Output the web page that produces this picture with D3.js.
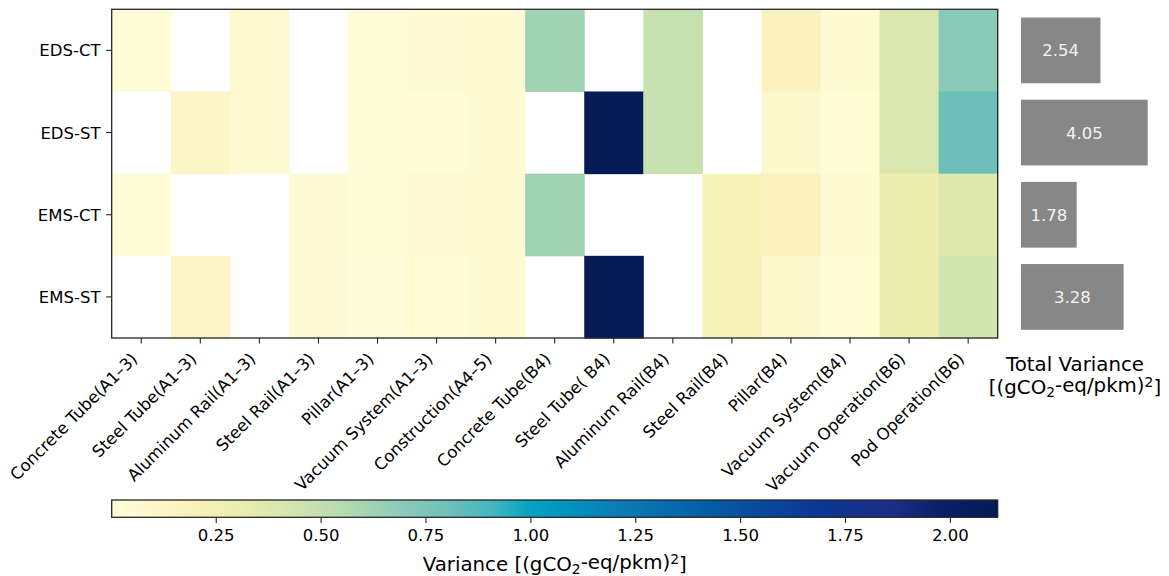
<!DOCTYPE html>
<html>
<head>
<meta charset="utf-8">
<script src="https://cdn.jsdelivr.net/npm/d3@7"></script>
<style>
  html, body { margin: 0; padding: 0; background: #fff; }
  svg text { font-family: "DejaVu Sans", "Liberation Sans", sans-serif; fill: #000; }
</style>
</head>
<body>
<svg id="chart" width="1169" height="576"></svg>
<script>
// ---- data -------------------------------------------------------------
const configs = ["EDS-CT", "EDS-ST", "EMS-CT", "EMS-ST"];
const stages = [
  "Concrete Tube(A1\u20133)", "Steel Tube(A1\u20133)", "Aluminum Rail(A1\u20133)",
  "Steel Rail(A1\u20133)", "Pillar(A1\u20133)", "Vacuum System(A1\u20133)",
  "Construction(A4\u20135)", "Concrete Tube(B4)", "Steel Tube( B4)",
  "Aluminum Rail(B4)", "Steel Rail(B4)", "Pillar(B4)", "Vacuum System(B4)",
  "Vacuum Operation(B6)", "Pod Operation(B6)"
];
// variance per stage, [(gCO2-eq/pkm)^2]; null = not applicable
const edsCT = [0.01, null, 0.06, null, 0.01, 0.04, 0.05, 0.62, null, 0.48, null, 0.17, 0.05, 0.40, 0.70];
const edsST = [null, 0.12, 0.06, null, 0.01, 0.02, 0.05, null, 2.11, 0.48, null, 0.08, 0.02, 0.40, 0.81];
const emsCT = [0.01, null, null, 0.04, 0.01, 0.04, 0.05, 0.62, null, null, 0.20, 0.18, 0.05, 0.29, 0.37];
const emsST = [null, 0.12, null, 0.04, 0.002, 0.02, 0.05, null, 2.114, null, 0.20, 0.08, 0.02, 0.29, 0.43];
const totals = [2.54, 4.05, 1.78, 3.28];
const cbarTicks = [0.25, 0.50, 0.75, 1.00, 1.25, 1.50, 1.75, 2.00];

const rows = [edsCT, edsST, emsCT, emsST];

// ---- colour ramp (yellow -> green -> blue), positions as fraction of range
const rampT = [0, 0.066, 0.10, 0.133, 0.166, 0.213, 0.258, 0.326, 0.383, 0.43, 0.473,
               0.516, 0.572, 0.662, 0.743, 0.80, 0.88, 0.937, 1];
const rampC = ["#fffdd9", "#fcf4c5", "#f6f1b4", "#eef0b0", "#e3eaae", "#cfe3b0", "#b8dbb0",
               "#8ccab8", "#6cc0b9", "#44b5c0", "#03a3c2", "#0292be", "#0a7cb6", "#0561a6",
               "#0a4699", "#0a3890", "#1f2d88", "#0a1f66", "#061a55"];

// ---- layout -----------------------------------------------------------
const svg = d3.select("#chart");
const L = 111.7, R = 997.7, T = 9.3, B = 338;
const tickLen = 5.6, tickPad = 5.6;
const fsTick = 16.5, fsLabel = 19.8;

const x = d3.scaleBand().domain(stages).range([L, R]);
const y = d3.scaleBand().domain(configs).range([T, B]);

const cells = [];
rows.forEach((vals, i) => vals.forEach((v, j) => {
  if (v !== null) cells.push({ row: configs[i], col: stages[j], v });
}));
const ext = d3.extent(cells, d => d.v);
const color = d3.scaleLinear()
  .domain(rampT.map(t => ext[0] + t * (ext[1] - ext[0])))
  .range(rampC)
  .interpolate(d3.interpolateRgb)
  .clamp(true);

// heatmap cells
svg.append("g")
  .selectAll("rect")
  .data(cells)
  .join("rect")
  .attr("x", d => x(d.col))
  .attr("y", d => y(d.row))
  .attr("width", x.bandwidth() + 0.5)
  .attr("height", y.bandwidth() + 0.5)
  .attr("fill", d => color(d.v));

// frame
svg.append("rect")
  .attr("x", L).attr("y", T).attr("width", R - L).attr("height", B - T)
  .attr("fill", "none").attr("stroke", "#262626").attr("stroke-width", 1.3);

// y axis
const gy = svg.append("g")
  .attr("transform", `translate(${L},0)`)
  .call(d3.axisLeft(y).tickSize(tickLen).tickPadding(tickPad));
gy.select(".domain").remove();
gy.selectAll("line").attr("stroke", "#262626").attr("stroke-width", 1.1);
gy.selectAll("text").attr("font-size", fsTick).attr("font-family", "DejaVu Sans").attr("dy", "0.36em");

// x axis with rotated labels
const gx = svg.append("g")
  .attr("transform", `translate(0,${B})`)
  .call(d3.axisBottom(x).tickSize(tickLen).tickPadding(tickPad));
gx.select(".domain").remove();
gx.selectAll("line").attr("stroke", "#262626").attr("stroke-width", 1.1);
gx.selectAll("text")
  .attr("font-size", fsTick).attr("font-family", "DejaVu Sans")
  .attr("x", 0).attr("y", 0).attr("dy", null)
  .attr("text-anchor", "end")
  .attr("transform", `translate(-2.8,${tickLen + tickPad + 10.8}) rotate(-45)`);

// ---- colour bar ---------------------------------------------------------
const CB = { x0: 111.7, x1: 997.7, y0: 500, y1: 517.3 };
const cx = d3.scaleLinear().domain(ext).range([CB.x0, CB.x1]);

const grad = svg.append("defs").append("linearGradient")
  .attr("id", "cbar").attr("x1", "0%").attr("x2", "100%").attr("y1", "0%").attr("y2", "0%");
d3.range(0, 1.0001, 0.005).forEach(t => {
  grad.append("stop")
    .attr("offset", (t * 100) + "%")
    .attr("stop-color", color(ext[0] + t * (ext[1] - ext[0])));
});
svg.append("rect")
  .attr("x", CB.x0).attr("y", CB.y0).attr("width", CB.x1 - CB.x0).attr("height", CB.y1 - CB.y0)
  .attr("fill", "url(#cbar)").attr("stroke", "#262626").attr("stroke-width", 1.3);

const gc = svg.append("g")
  .attr("transform", `translate(0,${CB.y1})`)
  .call(d3.axisBottom(cx).tickValues(cbarTicks).tickFormat(d3.format(".2f"))
        .tickSize(tickLen).tickPadding(6.8));
gc.select(".domain").remove();
gc.selectAll("line").attr("stroke", "#262626").attr("stroke-width", 1.1);
gc.selectAll("text").attr("font-size", fsTick).attr("font-family", "DejaVu Sans");

// unit label with sub/superscript
function unitLabel(sel) {
  sel.append("tspan").text("[(gCO");
  sel.append("tspan").attr("font-size", "70%").attr("dy", "0.25em").text("2");
  sel.append("tspan").attr("dy", "-0.25em").text("-eq/pkm)");
  sel.append("tspan").attr("font-size", "70%").attr("dy", "-0.38em").text("2");
  sel.append("tspan").attr("dy", "0.38em").text("]");
}

const cbLabel = svg.append("text")
  .attr("x", (CB.x0 + CB.x1) / 2).attr("y", 570.5)
  .attr("text-anchor", "middle").attr("font-size", fsLabel);
cbLabel.append("tspan").text("Variance ");
unitLabel(cbLabel);

// ---- total variance bars -----------------------------------------------
const xb = d3.scaleLinear().domain([0, d3.max(totals)]).range([1021, 1147.7]);
const yb = d3.scaleBand().domain(configs).range([T, B]).paddingInner(0.2).paddingOuter(0.1);

const bars = svg.append("g");
bars.selectAll("rect")
  .data(totals)
  .join("rect")
  .attr("x", xb(0))
  .attr("y", (d, i) => yb(configs[i]))
  .attr("width", d => xb(d) - xb(0))
  .attr("height", yb.bandwidth())
  .attr("fill", "#878787");
bars.selectAll("text")
  .data(totals)
  .join("text")
  .attr("x", d => (xb(0) + xb(d)) / 2)
  .attr("y", (d, i) => yb(configs[i]) + yb.bandwidth() / 2)
  .attr("dy", "0.36em")
  .attr("text-anchor", "middle")
  .attr("font-size", fsTick)
  .style("fill", "#f4f4f4")
  .text(d => d3.format(".2f")(d));

const tvX = 1075;
svg.append("text")
  .attr("x", tvX).attr("y", 370.5)
  .attr("text-anchor", "middle").attr("font-size", fsLabel)
  .text("Total Variance");
const tv2 = svg.append("text")
  .attr("x", tvX).attr("y", 393.5)
  .attr("text-anchor", "middle").attr("font-size", fsLabel);
unitLabel(tv2);
</script>
</body>
</html>
